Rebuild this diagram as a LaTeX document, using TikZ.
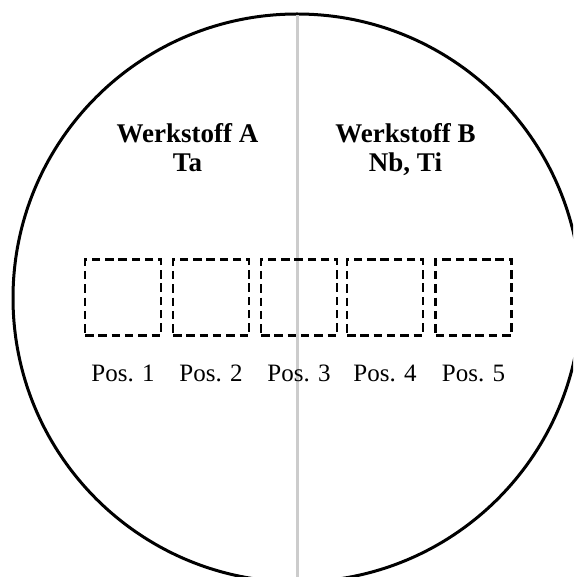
\documentclass[tikz,border=0pt]{standalone}
\usepackage{fontspec}
\setmainfont{Liberation Serif}
\begin{document}
\begin{tikzpicture}[x=1pt,y=-1pt,
  rim/.style={line width=3pt,draw=black},
  divider/.style={line width=3pt,draw=black!20},
  sample/.style={draw=black,line width=2.4pt,dash pattern=on 8.5pt off 4.8pt,
    minimum width=76pt,minimum height=76pt,inner sep=0pt},
  heading/.style={anchor=base,inner sep=0pt,font=\fontsize{27}{29}\selectfont\bfseries},
  poslabel/.style={anchor=base,inner sep=0pt,font=\fontsize{25}{28}\selectfont}]
  \useasboundingbox (0,0) rectangle (573,577);
  \clip (0,0) rectangle (573,577);
  % specimen outline and material boundary
  \draw[rim] (297,298) circle[radius=284];
  \coordinate (divtop) at (297,15);
  \coordinate (divbot) at (297,580);
  \draw[divider] (divtop) -- (divbot);
  % materials
  \node[heading] (matA) at (187.5,143) {Werkstoff A};
  \node[heading] (elemA) at (187.5,172) {Ta};
  \node[heading] (matB) at (405.5,143) {Werkstoff B};
  \node[heading] (elemB) at (405.5,172) {Nb, Ti};
  % measuring positions
  \foreach \i/\x in {1/123,2/211,3/299,4/385,5/473.5}{
    \node[sample] (box\i) at (\x,297.5) {};
    \node[poslabel] (pos\i) at (\x,381.5) {Pos. \i};
  }
\end{tikzpicture}
\end{document}
